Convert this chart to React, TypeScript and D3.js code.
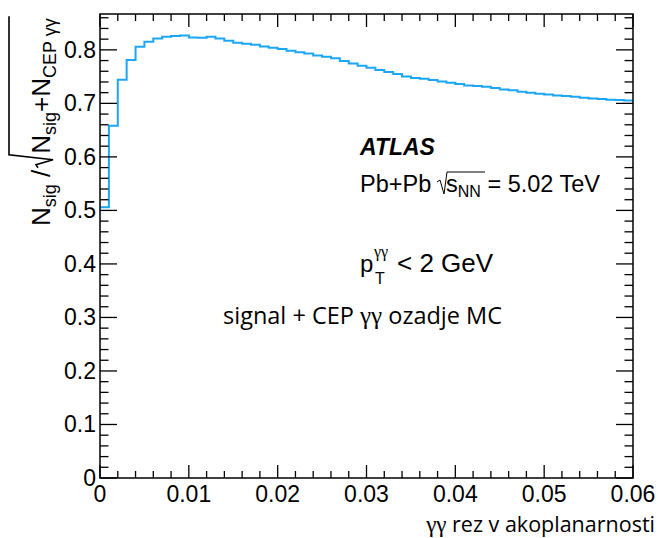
import React, { useEffect, useRef } from "react";
import * as d3 from "d3";

// bin contents, 60 bins of width 0.001 from 0 to 0.06
const binWidth = 0.001;
const significance = [
  0.506, 0.658, 0.744, 0.781, 0.806, 0.815, 0.821, 0.8245, 0.826, 0.827,
  0.823, 0.8225, 0.8245, 0.821, 0.817, 0.8135, 0.8115, 0.8095, 0.8065, 0.804,
  0.8015, 0.7985, 0.7955, 0.793, 0.7895, 0.787, 0.7841, 0.7791, 0.7747, 0.7703,
  0.7666, 0.7622, 0.7585, 0.7548, 0.7504, 0.7473, 0.746, 0.7436, 0.7411, 0.7386,
  0.7361, 0.7336, 0.7323, 0.7311, 0.7286, 0.7261, 0.7243, 0.7218, 0.7199, 0.718,
  0.7168, 0.7149, 0.7137, 0.7124, 0.7105, 0.7093, 0.708, 0.7068, 0.7062, 0.7055,
];
const xTickLabels = ["0", "0.01", "0.02", "0.03", "0.04", "0.05", "0.06"];
const xTickValues = [0, 0.01, 0.02, 0.03, 0.04, 0.05, 0.06];
const yTickLabels = ["0", "0.1", "0.2", "0.3", "0.4", "0.5", "0.6", "0.7", "0.8"];
const yTickValues = [0, 0.1, 0.2, 0.3, 0.4, 0.5, 0.6, 0.7, 0.8];

const W = 660;
const H = 538;
const margin = { top: 14, right: 27, bottom: 60, left: 100 };
const sans = "'Liberation Sans', Arial, sans-serif";
const open = "'Open Sans', sans-serif";
const serif = "'Liberation Serif', serif";
const lineColor = "#1ba6f7";

const App = () => {
  const ref = useRef<SVGSVGElement>(null);

  useEffect(() => {
    const svg = d3.select(ref.current);
    svg.selectAll("*").remove();

    const x = d3.scaleLinear().domain([0, 0.06]).range([margin.left, W - margin.right]);
    const y = d3.scaleLinear().domain([0, 0.867]).range([H - margin.bottom, margin.top]);
    const [x0, x1] = x.range();
    const [y0, y1] = y.range();

    // histogram as step line
    const pts: [number, number][] = significance.map((v, i) => [i * binWidth, v]);
    pts.push([significance.length * binWidth, significance[significance.length - 1]]);
    const line = d3.line<[number, number]>()
      .x((d) => x(d[0]))
      .y((d) => y(d[1]))
      .curve(d3.curveStepAfter);
    svg.append("path")
      .attr("d", line(pts))
      .attr("fill", "none")
      .attr("stroke", lineColor)
      .attr("stroke-width", 2);

    // frame
    svg.append("rect")
      .attr("x", x0).attr("y", y1)
      .attr("width", x1 - x0).attr("height", y0 - y1)
      .attr("fill", "none").attr("stroke", "#000").attr("stroke-width", 1.5);

    // ticks, pointing inward on all four sides
    const ticks = svg.append("g").attr("stroke", "#000").attr("stroke-width", 1.3);
    const xMinor = d3.range(0, 0.0601, 0.002);
    xMinor.forEach((v, i) => {
      const len = i % 5 === 0 ? 13 : 7;
      ticks.append("line").attr("x1", x(v)).attr("x2", x(v)).attr("y1", y0).attr("y2", y0 - len);
      ticks.append("line").attr("x1", x(v)).attr("x2", x(v)).attr("y1", y1).attr("y2", y1 + len);
    });
    const yMinor = d3.range(0, 0.867, 0.02);
    yMinor.forEach((v, i) => {
      const len = i % 5 === 0 ? 17 : 8.5;
      ticks.append("line").attr("x1", x0).attr("x2", x0 + len).attr("y1", y(v)).attr("y2", y(v));
      ticks.append("line").attr("x1", x1).attr("x2", x1 - len).attr("y1", y(v)).attr("y2", y(v));
    });

    // tick labels
    svg.append("g").selectAll("text")
      .data(xTickValues)
      .enter().append("text")
      .attr("x", (d) => x(d))
      .attr("y", y0 + 24)
      .attr("text-anchor", "middle")
      .attr("font-family", sans)
      .attr("font-size", 23)
      .text((d, i) => xTickLabels[i]);
    svg.append("g").selectAll("text")
      .data(yTickValues)
      .enter().append("text")
      .attr("x", x0 - 4)
      .attr("y", (d) => y(d) + 8)
      .attr("text-anchor", "end")
      .attr("font-family", sans)
      .attr("font-size", 23)
      .text((d, i) => yTickLabels[i]);

    // x title
    const xt = svg.append("text")
      .attr("x", 655).attr("y", 531.5)
      .attr("text-anchor", "end")
      .attr("font-family", open)
      .attr("font-size", 21.5);
    xt.append("tspan").attr("font-family", serif).attr("font-size", 23).text("γγ");
    xt.append("tspan").text(" rez v akoplanarnosti");

    // y title: N_sig / sqrt(N_sig + N_CEP γγ)
    const yt = svg.append("g").attr("transform", "translate(50,226) rotate(-90)");
    const fs = 26;
    const t1 = yt.append("text").attr("font-family", sans).attr("font-size", fs);
    t1.append("tspan").text("N");
    t1.append("tspan").attr("font-size", 18).attr("dy", 6).text("sig");
    t1.append("tspan").attr("dy", -6).text(" / ");
    const w1 = (t1.node() as SVGTextElement).getComputedTextLength();
    const r0 = w1 + 2;
    const t2 = yt.append("text").attr("x", r0 + 14).attr("font-family", sans).attr("font-size", fs);
    t2.append("tspan").text("N");
    t2.append("tspan").attr("font-size", 18).attr("dy", 6).text("sig");
    t2.append("tspan").attr("dy", -6).text("+N");
    t2.append("tspan").attr("font-size", 18).attr("dy", 6).text("CEP γγ");
    const w2 = (t2.node() as SVGTextElement).getComputedTextLength();
    yt.append("path")
      .attr("d", `M${r0},-12 L${r0 + 3},-14 L${r0 + 8},3 L${r0 + 13},-41 L${r0 + 16 + w2},-41`)
      .attr("fill", "none").attr("stroke", "#000").attr("stroke-width", 1.6);

    // annotations
    svg.append("text")
      .attr("x", 360).attr("y", 155)
      .attr("font-family", sans).attr("font-size", 23)
      .attr("font-weight", "bold").attr("font-style", "italic")
      .text("ATLAS");

    svg.append("text").attr("x", 360).attr("y", 192)
      .attr("font-family", sans).attr("font-size", 23.5)
      .text("Pb+Pb");
    svg.append("path")
      .attr("d", "M437,182 L440,180 L444,194 L447,172 L485,172")
      .attr("fill", "none").attr("stroke", "#000").attr("stroke-width", 1);
    const sn = svg.append("text").attr("x", 446).attr("y", 192)
      .attr("font-family", sans).attr("font-size", 23.5);
    sn.append("tspan").text("s");
    sn.append("tspan").attr("font-size", 16).attr("dy", 5).text("NN");
    sn.append("tspan").attr("dy", -5).text(" = 5.02 TeV");

    svg.append("text").attr("x", 360).attr("y", 272)
      .attr("font-family", sans).attr("font-size", 24).text("p");
    svg.append("text").attr("x", 374).attr("y", 257)
      .attr("font-family", serif).attr("font-size", 16).text("γγ");
    svg.append("text").attr("x", 375).attr("y", 284)
      .attr("font-family", sans).attr("font-size", 16).text("T");
    svg.append("text").attr("x", 397).attr("y", 272)
      .attr("font-family", sans).attr("font-size", 26).text("< 2 GeV");

    const sig = svg.append("text").attr("x", 223).attr("y", 324)
      .attr("font-family", open).attr("font-size", 23.5);
    sig.append("tspan").text("signal + CEP ");
    sig.append("tspan").attr("font-family", serif).attr("font-size", 25).text("γγ");
    sig.append("tspan").text(" ozadje MC");
  }, []);

  return (
    <svg
      ref={ref}
      width={W}
      height={H}
      style={{ position: "absolute", left: 0, top: 0, background: "#fff" }}
    />
  );
};

export default App;
